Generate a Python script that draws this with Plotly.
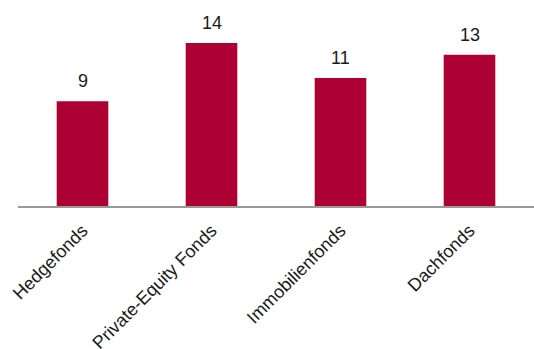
import plotly.graph_objects as go

categories = ["Hedgefonds", "Private-Equity Fonds", "Immobilienfonds", "Dachfonds"]
values = [9, 14, 11, 13]

bar_color = "#AD0033"

fig = go.Figure(go.Bar(x=categories, y=values, marker=dict(color=bar_color, line=dict(width=0)),
                       width=0.4, hoverinfo="skip"))

for c, v in zip(categories, values):
    fig.add_annotation(x=c, y=v, text=str(v), showarrow=False, yanchor="bottom", yshift=8,
                       font=dict(family="Liberation Sans, Arial", size=18, color="#1a1a1a"))

fig.update_layout(
    width=534, height=349,
    margin=dict(l=18, r=0, t=0, b=143),
    plot_bgcolor="white", paper_bgcolor="white",
    showlegend=False,
    font=dict(family="Liberation Sans, Arial", size=18, color="#1a1a1a"),
    xaxis=dict(tickangle=-45, showline=True, linecolor="#999999", linewidth=2,
               ticks="", showgrid=False, tickfont=dict(size=18), ticklabelstandoff=5,
               automargin=False),
    yaxis=dict(visible=False, range=[0, 17.7], showgrid=False, zeroline=False,
               automargin=False),
)

fig.write_html("out.html")
